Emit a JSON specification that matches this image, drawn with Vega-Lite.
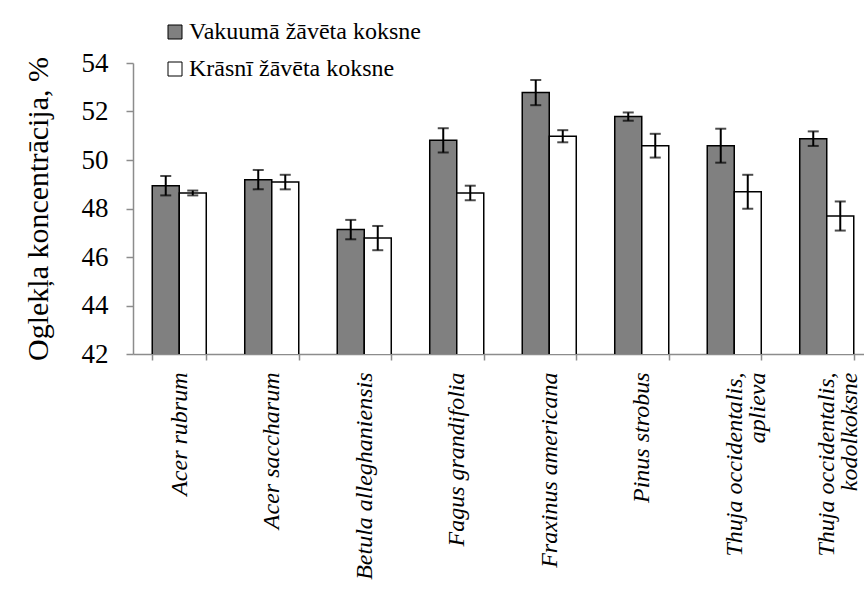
{
  "$schema": "https://vega.github.io/schema/vega-lite/v6.json",
  "width": 740,
  "height": 291,
  "autosize": {"type": "none"},
  "padding": {"left": 133, "top": 63, "right": -9, "bottom": 244},
  "background": "white",
  "config": {
    "view": {"stroke": null},
    "font": "Liberation Serif, Times New Roman, serif"
  },
  "data": {
    "values": [
      {"suga": "Acer rubrum", "veids": "Vakuumā žāvēta koksne", "v": 48.94, "err": 0.4},
      {"suga": "Acer rubrum", "veids": "Krāsnī žāvēta koksne", "v": 48.64, "err": 0.1},
      {"suga": "Acer saccharum", "veids": "Vakuumā žāvēta koksne", "v": 49.19, "err": 0.4},
      {"suga": "Acer saccharum", "veids": "Krāsnī žāvēta koksne", "v": 49.09, "err": 0.3},
      {"suga": "Betula alleghaniensis", "veids": "Vakuumā žāvēta koksne", "v": 47.13, "err": 0.4},
      {"suga": "Betula alleghaniensis", "veids": "Krāsnī žāvēta koksne", "v": 46.78, "err": 0.5},
      {"suga": "Fagus grandifolia", "veids": "Vakuumā žāvēta koksne", "v": 50.81, "err": 0.5},
      {"suga": "Fagus grandifolia", "veids": "Krāsnī žāvēta koksne", "v": 48.64, "err": 0.3},
      {"suga": "Fraxinus americana", "veids": "Vakuumā žāvēta koksne", "v": 52.78, "err": 0.52},
      {"suga": "Fraxinus americana", "veids": "Krāsnī žāvēta koksne", "v": 50.98, "err": 0.25},
      {"suga": "Pinus strobus", "veids": "Vakuumā žāvēta koksne", "v": 51.79, "err": 0.17},
      {"suga": "Pinus strobus", "veids": "Krāsnī žāvēta koksne", "v": 50.59, "err": 0.49},
      {"suga": "Thuja occidentalis, aplieva", "veids": "Vakuumā žāvēta koksne", "v": 50.59, "err": 0.7},
      {"suga": "Thuja occidentalis, aplieva", "veids": "Krāsnī žāvēta koksne", "v": 48.69, "err": 0.7},
      {"suga": "Thuja occidentalis, kodolkoksne", "veids": "Vakuumā žāvēta koksne", "v": 50.88, "err": 0.3},
      {"suga": "Thuja occidentalis, kodolkoksne", "veids": "Krāsnī žāvēta koksne", "v": 47.69, "err": 0.6}
    ]
  },
  "transform": [
    {"calculate": "datum.v - datum.err", "as": "lo"},
    {"calculate": "datum.v + datum.err", "as": "hi"}
  ],
  "encoding": {
    "x": {
      "field": "suga",
      "type": "nominal",
      "sort": null,
      "scale": {"paddingInner": 0.416, "paddingOuter": 0.208},
      "axis": {
        "title": null,
        "labelAngle": -90,
        "labelAlign": "right",
        "labelBaseline": "middle",
        "labelPadding": 12,
        "labelFontStyle": "italic",
        "labelFontSize": 24,
        "labelColor": "black",
        "labelLimit": 400,
        "labelLineHeight": 23,
        "labelExpr": "indexof(datum.label, 'Thuja') == 0 ? [slice(datum.label, 0, indexof(datum.label, ',') + 1), slice(datum.label, indexof(datum.label, ',') + 2)] : datum.label",
        "domainColor": "#8c8c8c",
        "domainWidth": 1.5,
        "tickColor": "#8c8c8c",
        "tickWidth": 1.5,
        "tickSize": 6,
        "tickBand": "extent",
        "labelOverlap": false
      }
    },
    "xOffset": {"field": "veids", "type": "nominal", "sort": ["Vakuumā žāvēta koksne", "Krāsnī žāvēta koksne"], "scale": {"paddingInner": 0, "paddingOuter": 0}}
  },
  "layer": [
    {
      "mark": {"type": "bar", "stroke": "black", "strokeWidth": 1.5, "clip": true},
      "encoding": {
        "y": {
          "field": "v",
          "type": "quantitative",
          "scale": {"domain": [42, 54], "zero": false, "nice": false},
          "axis": {
            "title": "Oglekļa koncentrācija, %",
            "titleFontSize": 30,
            "titleFontWeight": "normal",
            "titleColor": "black",
            "titlePadding": 28,
            "values": [42, 44, 46, 48, 50, 52, 54],
            "labelFontSize": 27,
            "labelColor": "black",
            "labelPadding": 18,
            "grid": false,
            "domainColor": "#8c8c8c",
            "domainWidth": 1.5,
            "tickColor": "#8c8c8c",
            "tickWidth": 1.5,
            "tickSize": 7
          }
        },
        "fill": {
          "field": "veids",
          "type": "nominal",
          "sort": ["Vakuumā žāvēta koksne", "Krāsnī žāvēta koksne"],
          "scale": {"range": ["#808080", "#ffffff"]},
          "legend": {
            "title": null,
            "orient": "none",
            "legendX": 30,
            "legendY": -43,
            "symbolType": "square",
            "symbolSize": 196,
            "symbolStrokeColor": "black",
            "symbolStrokeWidth": 1,
            "labelFontSize": 24,
            "labelColor": "black",
            "labelOffset": 2,
            "labelLimit": 400,
            "rowPadding": 13
          }
        }
      }
    },
    {
      "mark": {"type": "rule", "color": "black", "strokeWidth": 2},
      "encoding": {
        "y": {"field": "lo", "type": "quantitative"},
        "y2": {"field": "hi"}
      }
    },
    {
      "mark": {"type": "tick", "color": "black", "thickness": 2, "size": 11},
      "encoding": {"y": {"field": "lo", "type": "quantitative"}}
    },
    {
      "mark": {"type": "tick", "color": "black", "thickness": 2, "size": 11},
      "encoding": {"y": {"field": "hi", "type": "quantitative"}}
    }
  ]
}
